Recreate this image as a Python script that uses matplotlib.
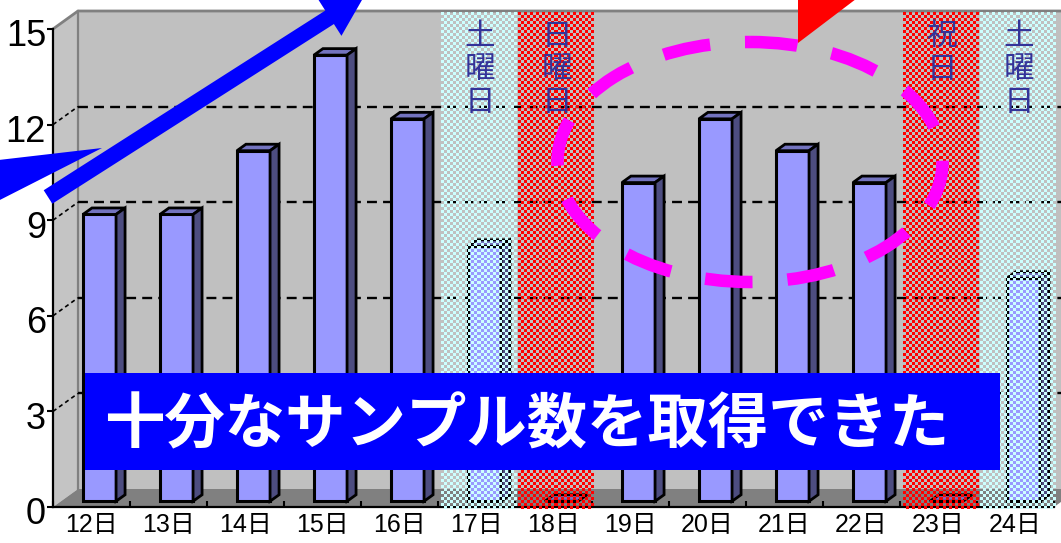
import numpy as np
import matplotlib
matplotlib.use('Agg')
import matplotlib.pyplot as plt
from matplotlib.colors import to_rgba
from matplotlib.patches import Polygon, Rectangle, Ellipse, FancyArrow
from matplotlib.transforms import ScaledTranslation

plt.rcParams['font.family'] = ['Liberation Sans', 'Noto Sans CJK JP']

# data
days = ['12日', '13日', '14日', '15日', '16日', '17日', '18日',
        '19日', '20日', '21日', '22日', '23日', '24日']
counts = [9, 9, 11, 14, 12, 8, 0, 10, 12, 11, 10, 0, 7]
yticks = [0, 3, 6, 9, 12, 15]

# weekend / holiday columns
band_idx = [5, 6, 11, 12]
band_text = ['土曜日', '日曜日', '祝日', '土曜日']
band_color = ['#CCFFFF', '#FF0000', '#FF0000', '#CCFFFF']

message = '十分なサンプル数を取得できた'

# 3d depth offset in data units (x: categories, y: values)
DX = 25 / 77
DY = 18 / 31.87
BAR_W = 0.43

fig = plt.figure(figsize=(10.61, 5.43), dpi=100)
ax = fig.add_axes([53 / 1061, 36 / 543, 1001 / 1061, 478 / 543])
ax.set_facecolor('none')
ax.set_xlim(-0.5, 12.5)
ax.set_ylim(0, 15)

# walls and floor
ax.add_patch(Polygon([(-0.5 + DX, DY), (12.5 + DX, DY), (12.5 + DX, 15 + DY), (-0.5 + DX, 15 + DY)],
                     closed=True, fc='#C0C0C0', ec='none', zorder=0.5, clip_on=False))
ax.add_patch(Polygon([(-0.5, 0), (-0.5 + DX, DY), (-0.5 + DX, 15 + DY), (-0.5, 15)],
                     closed=True, fc='#C4C4C4', ec='none', zorder=0.5, clip_on=False))
ax.add_patch(Polygon([(-0.5, 0), (12.5, 0), (12.5 + DX, DY), (-0.5 + DX, DY)],
                     closed=True, fc='#808080', ec='none', zorder=0.6, clip_on=False))
ax.plot([-0.5 + DX, -0.5 + DX], [DY, 15 + DY], color='#808080', lw=1.6, zorder=0.7, clip_on=False)
ax.plot([-0.5, -0.5 + DX, 12.5 + DX], [15, 15 + DY, 15 + DY], color='#808080', lw=2, zorder=0.7, clip_on=False)

# gridlines
for v in yticks[1:-1]:
    ax.plot([-0.5 + DX, 12.5 + DX], [v + DY, v + DY], color='black', lw=1.7,
            ls=(0, (4.2, 2.6)), zorder=0.8, clip_on=False)
    ax.plot([-0.5, -0.5 + DX], [v, v + DY], color='black', lw=1.2,
            ls=(0, (2.5, 2)), zorder=0.8, clip_on=False)

# bars (front face at 0.32 of the depth, 0.36 deep)
fx, fy = 0.32 * DX, 0.32 * DY
bx, by = 0.36 * DX, 0.36 * DY
xs = np.arange(len(days))
ax.bar(xs + fx, counts, width=BAR_W, bottom=fy, color='#9999FF', edgecolor='black',
       lw=2.2, zorder=3, clip_on=False)
for x, v in zip(xs, counts):
    x0 = x + fx - BAR_W / 2
    x1 = x + fx + BAR_W / 2
    top = v + fy
    ax.add_patch(Polygon([(x0, top), (x1, top), (x1 + bx, top + by), (x0 + bx, top + by)],
                         closed=True, fc='#7373BF', ec='black', lw=2, zorder=3.1, clip_on=False))
    if v > 0:
        ax.add_patch(Polygon([(x1, fy), (x1, top), (x1 + bx, top + by), (x1 + bx, fy + by)],
                             closed=True, fc='#4D4D80', ec='black', lw=2, zorder=3.1, clip_on=False))

# hatched weekend / holiday bands
def checker(nx, ny, color):
    arr = np.zeros((ny, nx, 4))
    ii, jj = np.indices((ny, nx))
    arr[(ii + jj) % 2 == 0] = to_rgba(color)
    return arr

for k, txt, col in zip(band_idx, band_text, band_color):
    im = ax.imshow(checker(25, 166, col), extent=(k - 0.455, k + 0.53, -0.05, 15.53),
                   interpolation='nearest', aspect='auto', zorder=4)
    im.set_clip_on(False)
    for n, ch in enumerate(txt):
        ax.text(k + 0.04, 14.78 - 1.04 * n, ch, ha='center', va='center', fontsize=22,
                color='#333399', family=['Noto Sans CJK JP'], zorder=5)

ax.set_xlim(-0.5, 12.5)
ax.set_ylim(0, 15)

# axes
for s in ['top', 'right']:
    ax.spines[s].set_visible(False)
ax.spines['left'].set_linewidth(1.6)
ax.spines['bottom'].set_linewidth(1.6)
ax.set_yticks(yticks)
ax.set_yticklabels([str(t) for t in yticks], fontsize=26)
ax.tick_params(axis='y', direction='out', length=4, width=1.5, pad=1)
shift = ScaledTranslation(0, -4 / 100, fig.dpi_scale_trans)
for lbl in ax.get_yticklabels():
    lbl.set_transform(lbl.get_transform() + shift)
ax.set_xticks(xs)
ax.set_xticklabels(days, fontsize=18)
ax.tick_params(axis='x', length=0, pad=4)
ax.set_xticks(np.arange(-0.5, 13, 1), minor=True)
ax.tick_params(axis='x', which='minor', direction='in', length=4, width=1.5)

# annotation overlay in pixel coordinates
ov = fig.add_axes([0, 0, 1, 1], zorder=10)
ov.set_xlim(0, 1061)
ov.set_ylim(543, 0)
ov.axis('off')
ov.patch.set_alpha(0)

ov.add_patch(Ellipse((750, 162), 385, 240, fill=False, edgecolor='#FF00FF', lw=9,
                     ls=(0, (3.8, 2.8))))
ov.add_patch(FancyArrow(48, 197, 317, -202.3, width=16, head_width=44, head_length=42,
                        length_includes_head=True, color='#0000FF', lw=0))
ov.add_patch(Polygon([(-10, 161), (102, 148), (-10, 205)], closed=True, fc='#0000FF', ec='none'))
ov.add_patch(Polygon([(798, -20), (881, -20), (798, 43)], closed=True, fc='#FF0000', ec='none'))

ov.add_patch(Rectangle((85, 373), 915, 97, fc='#0000FF', ec='none'))
ov.text(104, 426, message, ha='left', va='center', fontsize=43.5, color='white',
        fontweight='bold', family=['Noto Sans CJK JP'])

fig.savefig('out.png', dpi=100)
